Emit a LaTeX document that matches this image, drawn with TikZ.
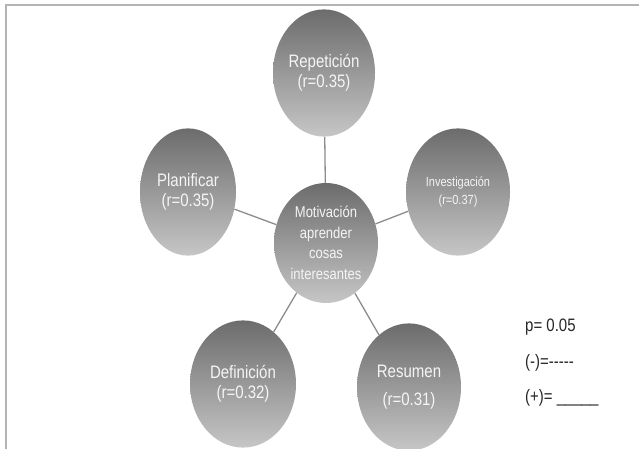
\documentclass[tikz,border=0pt]{standalone}
\usepackage{fontspec}
\setmainfont{Liberation Sans}
\usetikzlibrary{shapes.geometric}

\definecolor{balltop}{HTML}{6C6C6C}
\definecolor{ballbottom}{HTML}{C6C6C6}
\definecolor{linkgray}{HTML}{8C8C8C}
\definecolor{framegray}{HTML}{B4B4B4}

\tikzset{
  ball/.style={ellipse, inner sep=0pt, yscale=1.2, minimum width=104pt, minimum height=106pt,
    top color=balltop, bottom color=ballbottom, text=white!96!black, align=center,
    font=\fontsize{15}{16.7}\selectfont},
  link/.style={draw=linkgray, line width=1.3pt},
  legend/.style={anchor=west, inner sep=0pt, yscale=1.2, text=black!85,
    font=\fontsize{15}{17}\selectfont}
}

\begin{document}
\begin{tikzpicture}[x=1pt, y=-1pt]
\useasboundingbox (0,0) rectangle (639,449);
% frame
\draw[framegray, line width=2pt] (6,449) -- (6,5) -- (639,5);

% centre and the five factors
\node[ball, minimum height=100pt, font=\fontsize{13}{17.2}\selectfont] (mot) at (326,243)
  {Motivación\\aprender\\cosas\\interesantes};
\node[ball, minimum width=102pt] (rep) at (324,73) {Repetición\\(r=0.35)};
\node[ball, minimum width=96pt] (plan) at (188,192) {Planificar\\(r=0.35)};
\node[ball, font=\fontsize{11}{14.2}\selectfont] (inv) at (458,192) {Investigación\\(r=0.37)};
\node[ball, minimum width=106pt] (def) at (243,384) {Definición\\(r=0.32)};
\node[ball, font=\fontsize{15}{23}\selectfont] (res) at (409,387) {Resumen\\(r=0.31)};

% links
\draw[link] (mot) -- (rep);
\draw[link] (mot) -- (plan);
\draw[link] (mot) -- (inv);
\draw[link] (mot) -- (def);
\draw[link] (mot) -- (res);

% legend
\node[legend] (pval) at (525,327) {p= 0.05};
\node[legend] (neg) at (525,363) {(-)={-}{-}{-}{-}{-}};
\node[legend] (pos) at (525,398) {(+)= \_\_\_\_\_};

\end{tikzpicture}
\end{document}
